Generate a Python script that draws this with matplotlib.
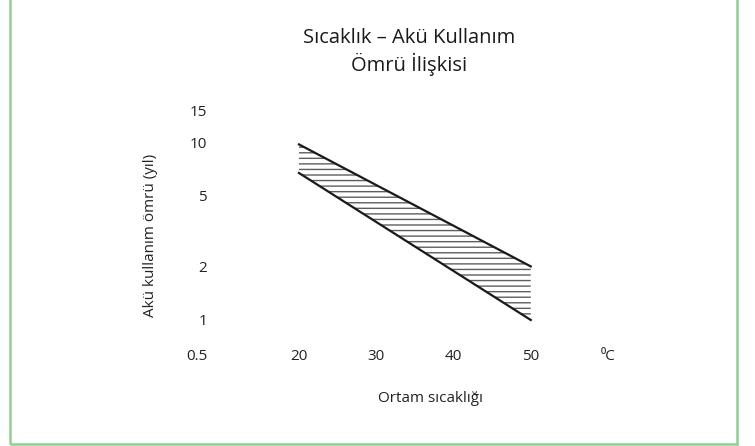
import matplotlib.pyplot as plt
from matplotlib.patches import Rectangle
from matplotlib.transforms import ScaledTranslation

plt.rcParams['font.family'] = ['Open Sans', 'DejaVu Sans']
plt.rcParams['hatch.linewidth'] = 1.0

# ortam sicakligi (C) ve aku omru sinirlari (yil)
temps = [20, 50]
upper_life = [9.7, 2.0]
lower_life = [6.7, 1.0]

y_ticks = [1, 2, 5, 10, 15]
x_ticks = [20, 30, 40, 50, 60]
x_tick_labels = ["20", "30", "40", "50", "\u2070C"]

fig = plt.figure(figsize=(7.55, 4.46), dpi=100)
ax = fig.add_axes([0.2834, 0.2327, 0.5424, 0.5303])

# shaded band with horizontal hatch lines
ax.fill_between(temps, lower_life, upper_life, facecolor="none",
                edgecolor="#5e5e5e", linewidth=0, hatch="---")
ax.plot(temps, upper_life, color="#1a1a1a", linewidth=1.6)
ax.plot(temps, lower_life, color="#1a1a1a", linewidth=1.6)

ax.set_yscale("log")
ax.set_ylim(0.75, 16)
ax.set_xlim(9, 62)
ax.set_yticks(y_ticks)
ax.set_yticklabels([str(v) for v in y_ticks])
ax.minorticks_off()
ax.set_xticks(x_ticks)
ax.set_xticklabels(x_tick_labels)
ax.tick_params(length=0, labelsize=11, colors="#222222", pad=5)
for s in ax.spines.values():
    s.set_visible(False)

# 0.5 label sits on the x tick label row
ax.text(0, 0, "0.5", transform=ax.transAxes + ScaledTranslation(-5 / 72, -5 / 72, fig.dpi_scale_trans),
        ha="right", va="top", fontsize=11, color="#222222")

fig.text(409 / 755, 1 - 52 / 446, "Sıcaklık – Akü Kullanım\nÖmrü İlişkisi", ha="center", va="center",
         fontsize=14.5, linespacing=1.3, color="#1a1a1a")
fig.text(430 / 755, 1 - 398 / 446, "Ortam sıcaklığı", ha="center", va="center", fontsize=11, color="#222222")
fig.text(150 / 755, 1 - 235 / 446, "Akü kullanım ömrü (yıl)", ha="center", va="center", rotation=90,
         fontsize=11, color="#222222")

# green frame around the figure
fig.patches.append(Rectangle((10 / 755, 2.5 / 446), 727 / 755, 1.2, transform=fig.transFigure,
                             fill=False, edgecolor="#8fd08f", linewidth=1.8))

fig.savefig("out.png", dpi=100)
